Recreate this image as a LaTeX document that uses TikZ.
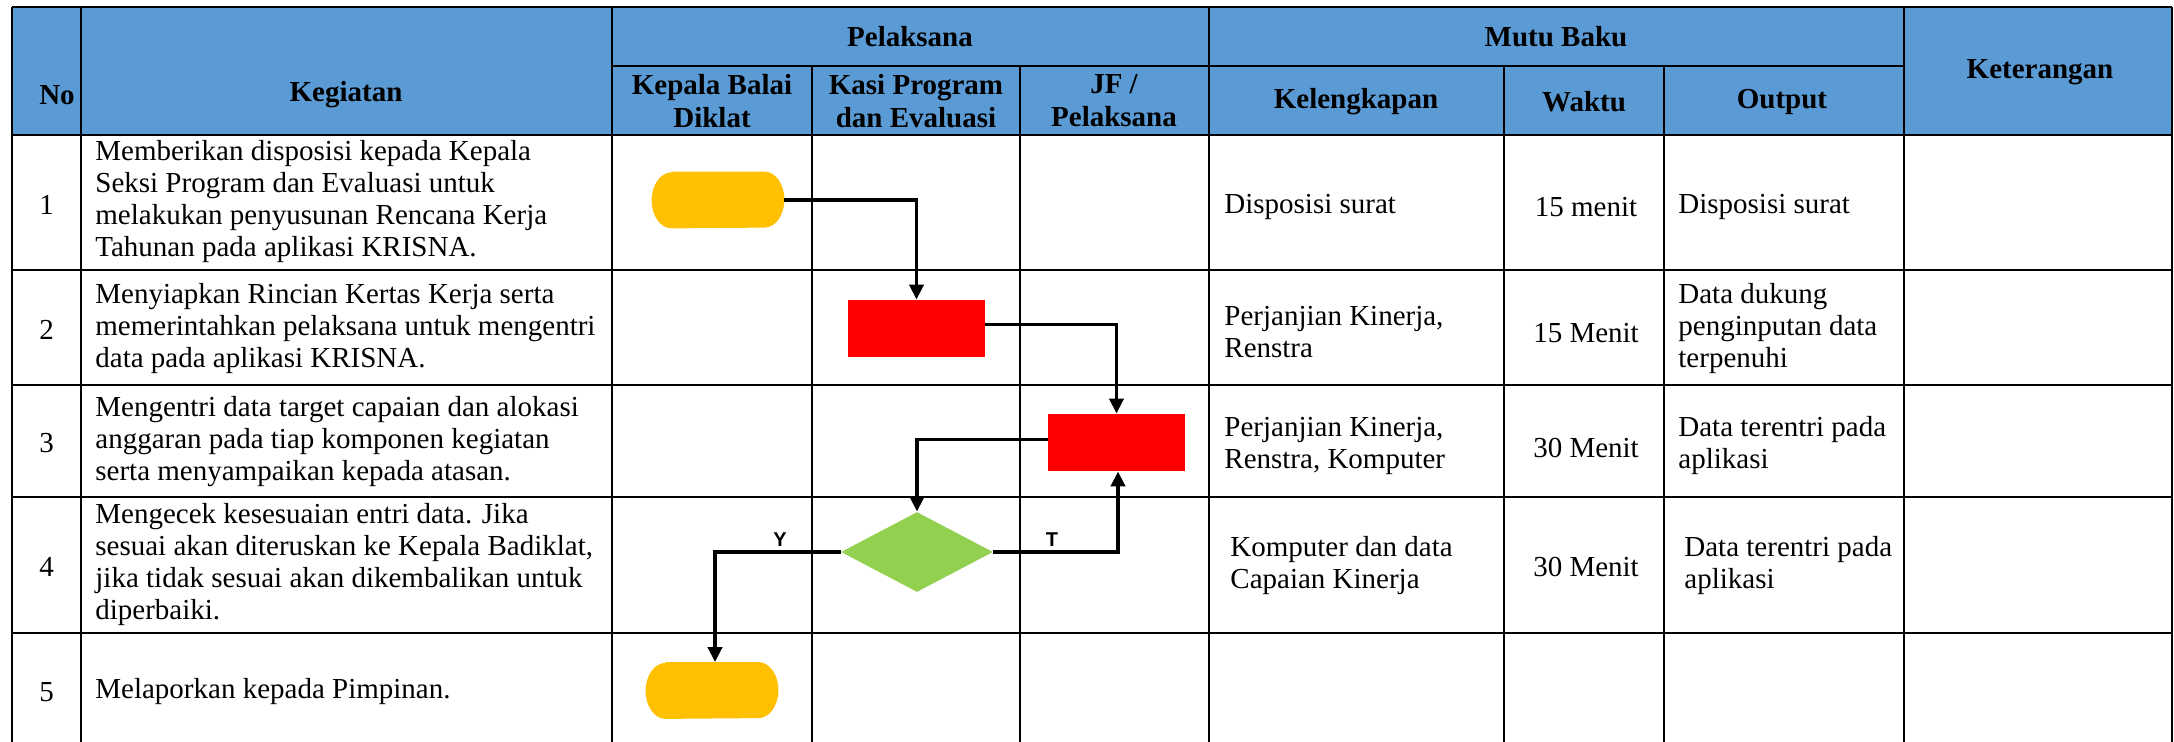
\documentclass[tikz,border=0pt]{standalone}
\usepackage{fontspec}
\setmainfont{Liberation Serif}
\newfontfamily\lsans{Liberation Sans}
\usetikzlibrary{shapes.geometric,arrows.meta}
\definecolor{hdr}{HTML}{5B9BD5}
\definecolor{termc}{HTML}{FFC000}
\definecolor{procc}{HTML}{FF0000}
\definecolor{decc}{HTML}{92D050}
\newcommand\termfill[1]{\fill[termc] ([xshift=10pt]#1.north west) -- ([xshift=-10pt]#1.north east) arc[start angle=90,end angle=-90,x radius=10pt,y radius=14pt] -- ([xshift=10pt]#1.south west) arc[start angle=270,end angle=90,x radius=10pt,y radius=14pt] -- cycle;}
\begin{document}
\begin{tikzpicture}[x=0.5pt,y=-0.5pt,
  hline/.style={line width=1.2pt},
  vline/.style={line width=1.0pt},
  body/.style={font=\fontsize{14.5}{16}\selectfont, inner sep=0pt, align=left},
  bodyc/.style={font=\fontsize{14.5}{16}\selectfont, inner sep=0pt, align=center},
  head/.style={font=\fontsize{14.5}{16.5}\selectfont\bfseries, inner sep=0pt, align=center},
  term/.style={minimum width=66pt, minimum height=28pt, inner sep=0pt},
  proc/.style={rectangle, fill=procc, minimum width=68.5pt, minimum height=28.5pt, inner sep=0pt},
  dec/.style={diamond, fill=decc, minimum width=76pt, minimum height=40pt, inner sep=0pt, shape aspect=1.9},
  conn/.style={line width=1.9pt, line join=miter, -{Triangle[length=7.5pt,width=7pt]}},
  lbl/.style={font=\lsans\bfseries\fontsize{10}{12}\selectfont, inner sep=0pt}
]
\useasboundingbox (0,0) rectangle (2174,742);
\fill[white] (0,0) rectangle (2174,742);
\fill[hdr] (12,7) rectangle (2172,135);

% grid
\draw[hline] (12,7) -- (2172,7);
\draw[hline] (612,66) -- (1904,66);
\draw[line width=1.4pt] (12,135) -- (2172,135);
\foreach \yy in {270,385,497,633} \draw[hline] (12,\yy) -- (2172,\yy);
\foreach \xx in {12,81,612,1209,1904,2172} \draw[vline] (\xx,7) -- (\xx,742);
\foreach \xx in {812,1020,1504,1664} \draw[vline] (\xx,66) -- (\xx,742);

% header
\node[head] (hno) at (57,95) {No};
\node[head] (hkeg) at (346,95) {Kegiatan};
\node[head] (hpel) at (910,37) {Pelaksana};
\node[head] (hmutu) at (1556,37) {Mutu Baku};
\node[head] (hket) at (2040,72) {Keterangan};
\node[head] (hkb) at (712,101) {Kepala Balai\\Diklat};
\node[head] (hkasi) at (916,101) {Kasi Program\\dan Evaluasi};
\node[head] (hjf) at (1114,101) {JF /\\Pelaksana};
\node[head] (hkel) at (1356,102) {Kelengkapan};
\node[head] (hwak) at (1584,102) {Waktu};
\node[head] (hout) at (1782,102) {Output};

% numbers
\node[bodyc] (n1) at (46.5,205) {1};
\node[bodyc] (n2) at (46.5,330) {2};
\node[bodyc] (n3) at (46.5,443) {3};
\node[bodyc] (n4) at (46.5,567) {4};
\node[bodyc] (n5) at (46.5,692) {5};

% kegiatan
\node[body, anchor=west] (k1) at (95,202) {Memberikan disposisi kepada Kepala\\Seksi Program dan Evaluasi untuk\\melakukan penyusunan Rencana Kerja\\Tahunan pada aplikasi KRISNA.};
\node[body, anchor=west] (k2) at (95,329) {Menyiapkan Rincian Kertas Kerja serta\\memerintahkan pelaksana untuk mengentri\\data pada aplikasi KRISNA.};
\node[body, anchor=west] (k3) at (95,442) {Mengentri data target capaian dan alokasi\\anggaran pada tiap komponen kegiatan\\serta menyampaikan kepada atasan.};
\node[body, anchor=west] (k4) at (95,565) {Mengecek kesesuaian entri data. Jika\\sesuai akan diteruskan ke Kepala Badiklat,\\jika tidak sesuai akan dikembalikan untuk\\diperbaiki.};
\node[body, anchor=west] (k5) at (95,692) {Melaporkan kepada Pimpinan.};

% kelengkapan
\node[body, anchor=west] (l1) at (1224,207) {Disposisi surat};
\node[body, anchor=west] (l2) at (1224,332) {Perjanjian Kinerja,\\Renstra};
\node[body, anchor=west] (l3) at (1224,446) {Perjanjian Kinerja,\\Renstra, Komputer};
\node[body, anchor=west] (l4) at (1230,566) {Komputer dan data\\Capaian Kinerja};

% waktu
\node[bodyc] (w1) at (1586,207) {15 menit};
\node[bodyc] (w2) at (1586,333) {15 Menit};
\node[bodyc] (w3) at (1586,448) {30 Menit};
\node[bodyc] (w4) at (1586,567) {30 Menit};

% output
\node[body, anchor=west] (o1) at (1678,207) {Disposisi surat};
\node[body, anchor=west] (o2) at (1678,329) {Data dukung\\penginputan data\\terpenuhi};
\node[body, anchor=west] (o3) at (1678,446) {Data terentri pada\\aplikasi};
\node[body, anchor=west] (o4) at (1684,566) {Data terentri pada\\aplikasi};

% flow shapes
\node[term] (start) at (718,200) {};
\termfill{start}
\node[proc] (p1) at (916.5,328.5) {};
\node[proc] (p2) at (1116.5,442.5) {};
\node[dec] (d1) at (917,552) {};
\node[term] (stop) at (712,690.5) {};
\termfill{stop}

% connectors
\draw[conn] (start.east) -| (p1.north);
\draw[conn] ([yshift=2pt]p1.east) -| (p2.north);
\draw[conn] ([yshift=1.5pt]p2.west) -| (d1.north);
\draw[conn] (d1.east) -| ([xshift=0.75pt]p2.south);
\draw[conn] (d1.west) -| ([xshift=1.5pt]stop.north);
\node[lbl] (lt) at (1052,540) {T};
\node[lbl] (ly) at (780,540) {Y};
\end{tikzpicture}
\end{document}
